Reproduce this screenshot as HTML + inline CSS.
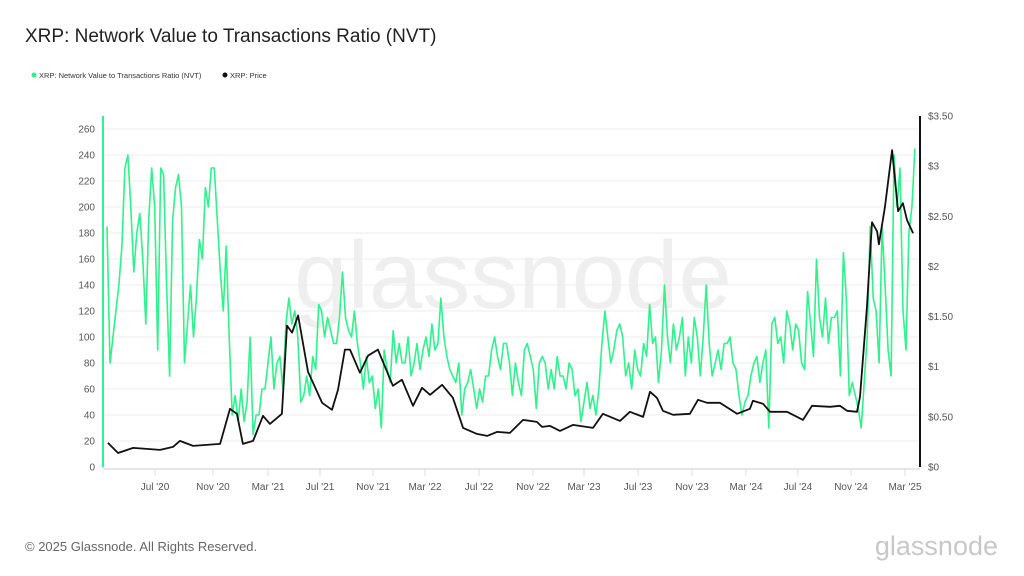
<!DOCTYPE html>
<html><head><meta charset="utf-8"><style>
body{margin:0;background:#fff;font-family:"Liberation Sans",sans-serif;}
#wrap{position:relative;width:1024px;height:576px;overflow:hidden;background:#fff;}
</style></head><body>
<div id="wrap">
<svg id="chart" width="1024" height="576">
<text x="25" y="42" font-size="19" fill="#222">XRP: Network Value to Transactions Ratio (NVT)</text>
<g>
<circle cx="34" cy="75" r="2.5" fill="#2ef28c"/>
<text x="39" y="78" font-size="7.5" fill="#333">XRP: Network Value to Transactions Ratio (NVT)</text>
<circle cx="225" cy="75" r="2.5" fill="#111"/>
<text x="230" y="78" font-size="7.5" fill="#333">XRP: Price</text>
</g>
<text x="513" y="308" font-size="96" fill="#efefef" text-anchor="middle">glassnode</text>
<g id="grid"></g><g id="axes"></g><g id="series"></g>
<text x="25" y="551" font-size="13" fill="#666">© 2025 Glassnode. All Rights Reserved.</text>
<text x="998" y="555" font-size="27" fill="#c8c8c8" text-anchor="end">glassnode</text>
</svg>
</div>
<script>
const nvtValues=[185,80,100,120,140,170,230,240,200,150,180,195,160,110,190,230,200,90,230,225,140,70,190,215,225,200,80,110,140,100,130,175,160,215,200,230,230,190,150,120,170,100,40,55,35,60,35,50,100,25,40,40,60,60,80,100,60,80,85,60,110,130,110,120,100,50,55,70,55,85,75,125,120,100,115,105,95,95,115,150,115,105,100,120,95,80,60,85,65,70,45,60,30,90,75,65,105,80,95,80,80,100,70,80,95,75,90,100,85,110,90,95,130,100,85,75,70,65,80,40,60,65,75,60,45,60,50,70,70,90,100,85,75,95,95,80,55,80,65,55,90,95,85,75,45,80,85,80,60,75,60,85,70,70,60,80,75,55,60,35,50,65,45,55,40,60,95,120,100,80,90,105,110,100,70,80,60,90,75,70,95,85,125,95,100,65,90,140,100,80,110,90,100,115,70,100,80,115,100,70,100,140,95,70,80,90,75,95,95,100,80,75,55,40,50,55,70,80,85,65,80,90,30,110,115,95,100,80,120,110,90,110,105,80,75,135,110,85,160,115,100,130,95,115,115,120,70,165,130,55,65,55,45,30,65,100,185,130,120,80,185,140,90,70,240,200,230,120,90,180,200,245];
const nvtStartWeek=0, nvtEndWeek=269.3;
const priceWeeks=[0.3,3.7,8.7,17.7,22,24.3,28.7,37.7,41,43.3,45.3,48.7,52,54.3,58.3,60,61.7,63.7,67,71.7,75,77,79.3,81,84.3,87,90.3,95.3,98.3,102,105,107.7,111.7,115.3,118.7,123.3,126.7,130,134.3,138.7,143.3,145,147.7,151,155.3,162,165.3,171,174.3,178.7,181,183.3,185.3,188.7,194.3,197,200,204.3,210,214.3,215.3,218.7,221,226.7,232,235,241,244.3,246.7,250,251,253.3,255,256.7,257.3,259.3,261.7,263.7,265.3,266.7,268.7];
const priceValues=[0.24,0.14,0.19,0.17,0.20,0.26,0.21,0.23,0.58,0.53,0.23,0.26,0.51,0.43,0.53,1.41,1.34,1.51,0.95,0.64,0.57,0.77,1.17,1.17,0.94,1.11,1.17,0.81,0.87,0.61,0.79,0.72,0.82,0.69,0.39,0.33,0.31,0.35,0.34,0.47,0.45,0.40,0.41,0.36,0.42,0.39,0.53,0.46,0.55,0.50,0.75,0.69,0.56,0.52,0.53,0.67,0.64,0.64,0.53,0.58,0.66,0.63,0.55,0.55,0.47,0.61,0.60,0.61,0.56,0.55,0.70,1.59,2.44,2.35,2.22,2.59,3.16,2.55,2.63,2.46,2.33];
const leftTicks=[0,20,40,60,80,100,120,140,160,180,200,220,240,260];
const rightTicks=[0,0.5,1,1.5,2,2.5,3,3.5];
const rightTickLabels=["$0","$0.50","$1","$1.50","$2","$2.50","$3","$3.50"];
const xTickWeeks=[16,35.3,53.7,71,88.7,106,124,142,159,177,195,213,230.3,248,266];
const xTickLabels=["Jul '20","Nov '20","Mar '21","Jul '21","Nov '21","Mar '22","Jul '22","Nov '22","Mar '23","Jul '23","Nov '23","Mar '24","Jul '24","Nov '24","Mar '25"];

const NS="http://www.w3.org/2000/svg";
const xS=w=>107+3*w;
const yL=v=>467-v*1.3;
const yR=p=>467-p*100.3;
function mk(tag,attrs,parent){const e=document.createElementNS(NS,tag);for(const k in attrs)e.setAttribute(k,attrs[k]);parent.appendChild(e);return e;}
const grid=document.getElementById('grid'),axes=document.getElementById('axes'),series=document.getElementById('series');
leftTicks.forEach(v=>{
  if(v>0){const g=mk('line',{x1:103,x2:918,y1:yL(v),y2:yL(v),stroke:'#eeeeee','stroke-width':1},grid);
  
  }
  const t=mk('text',{x:95,y:yL(v)+3.5,'font-size':10,fill:'#555','text-anchor':'end'},axes);
  t.textContent=v;
  
  
});
rightTicks.forEach((p,i)=>{
  const t=mk('text',{x:928,y:yR(p)+3.5,'font-size':10,fill:'#555'},axes);
  t.textContent=rightTickLabels[i];
  
  
});
const base=mk('line',{x1:103,x2:920,y1:469,y2:469,stroke:'#ddd','stroke-width':1.5},axes);


xTickWeeks.forEach((w,i)=>{
  const tk=mk('line',{x1:xS(w),x2:xS(w),y1:469,y2:476,stroke:'#ddd'},axes);
  
  
  const t=mk('text',{x:xS(w),y:490,'font-size':10,fill:'#555','text-anchor':'middle'},axes);
  t.textContent=xTickLabels[i];
  
  
});
const la=mk('line',{x1:103,x2:103,y1:116,y2:467,stroke:'#2ef28c','stroke-width':2},axes);


const ra=mk('line',{x1:920,x2:920,y1:116,y2:467,stroke:'#111','stroke-width':2},axes);


const step=(nvtEndWeek-nvtStartWeek)/(nvtValues.length-1);
const nvtD=nvtValues.map((v,i)=>(i?'L':'M')+xS(nvtStartWeek+i*step).toFixed(1)+','+yL(v).toFixed(1)).join('');
const nl=mk('path',{d:nvtD,fill:'none',stroke:'#2ef28c','stroke-width':1.6,'stroke-linejoin':'round'},series);


const pD=priceValues.map((v,i)=>(i?'L':'M')+xS(priceWeeks[i]).toFixed(1)+','+yR(v).toFixed(1)).join('');
const pl=mk('path',{d:pD,fill:'none',stroke:'#111','stroke-width':1.8,'stroke-linejoin':'round'},series);


</script>
</body></html>
